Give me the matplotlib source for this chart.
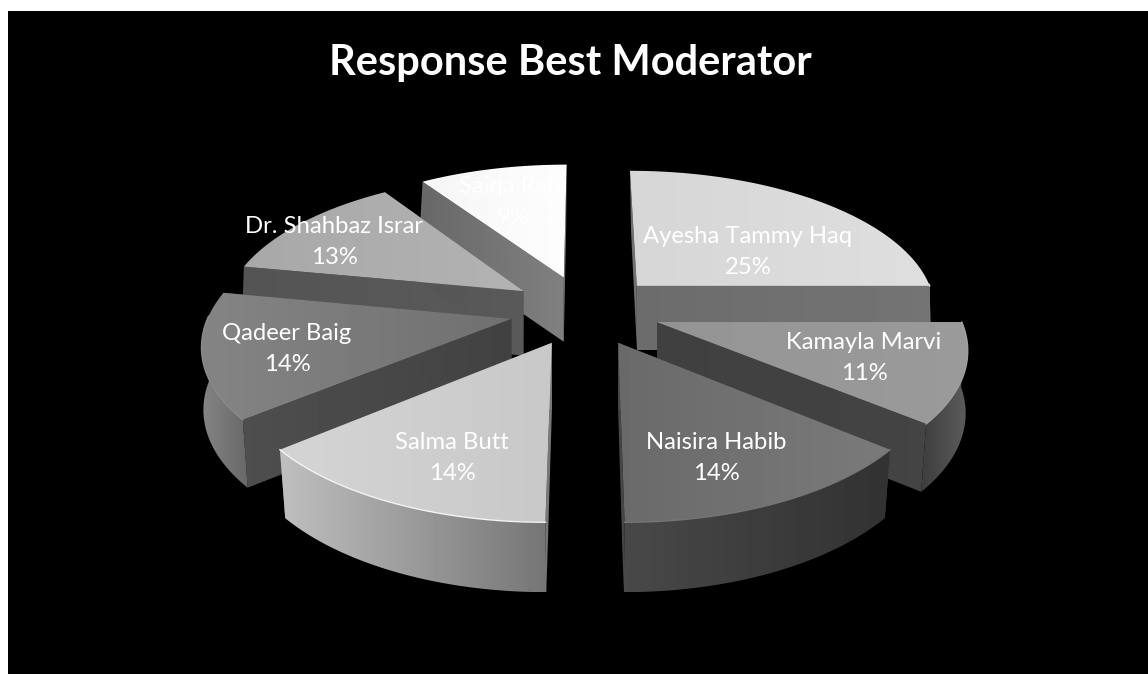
import numpy as np
import matplotlib
matplotlib.use("Agg")
import matplotlib.pyplot as plt
from matplotlib.patches import Polygon

plt.rcParams['font.family'] = ['Lato', 'DejaVu Sans']

names = ['Ayesha Tammy Haq', 'Kamayla Marvi', 'Naisira Habib', 'Salma Butt',
         'Qadeer Baig', 'Dr. Shahbaz Israr', 'Saiqa Rani']
shares = [25, 11, 14, 14, 14, 12.6, 9.4]

# Greys per slice, each (left, right): top surface, side wall, cut wall
top_gray = [(214, 222), (148, 154), (106, 122), (212, 200), (132, 112), (168, 178), (246, 253)]
wall_gray = [(120, 120), (62, 92), (72, 50), (190, 118), (132, 104), (120, 120), (120, 120)]
cut_gray = [(108, 116), (64, 68), (70, 70), (120, 120), (78, 66), (84, 90), (104, 128)]
rim_gray = [222, 160, 118, 244, 140, 178, 250]

# Label centres in pixels of the figure
label_x = [748, 864, 716, 452, 287, 334, 513]
label_y = [252, 358, 458, 458, 349, 242, 202]

# Perspective of the pie
CX, CY = 585, 310
AX_U, AX_V = 301, 140
PERSP = 0.156
EXPLODE = 0.25


def project(u, v, drop=False):
    """Map pie plane coordinates to pixels, optionally on the bottom face."""
    d = 1 + PERSP * v
    x = CX + AX_U * u / d
    y = CY - AX_V * v / d
    if drop:
        x = CX + (x - CX) * (1 + 0.02 * v)
        y = y + 65 - 4 * v
    return x, y


def gradient_poly(ax, xs, ys, g_left, g_right, z):
    """Fill a polygon with a left to right grey gradient."""
    patch = Polygon(np.c_[xs, ys], facecolor='none', edgecolor='none', zorder=z)
    ax.add_patch(patch)
    grad = np.linspace(g_left, g_right, 64).reshape(1, -1)
    im = ax.imshow(grad, extent=(np.min(xs), np.max(xs) + 0.01, np.max(ys) + 0.01, np.min(ys)), cmap='gray',
                   vmin=0, vmax=255, aspect='auto', zorder=z, interpolation='bilinear')
    im.set_clip_path(patch)


def draw_slice(ax, start, end, i, z):
    mid = (start + end) / 2
    ou, ov = EXPLODE * np.sin(mid), EXPLODE * np.cos(mid)
    t = np.linspace(start, end, 120)
    u = ou + np.sin(t)
    v = ov + np.cos(t)

    # cut walls from the apex out to both ends of the arc
    for ang in (start, end):
        eu, ev = ou + np.sin(ang), ov + np.cos(ang)
        a = project(ou, ov)
        b = project(eu, ev)
        c = project(eu, ev, True)
        d = project(ou, ov, True)
        gradient_poly(ax, [a[0], b[0], c[0], d[0]], [a[1], b[1], c[1], d[1]],
                      cut_gray[i][0], cut_gray[i][1], z)

    # outer wall, only the part facing the viewer
    front = np.cos(t) < 0.02
    if front.sum() > 1:
        tx, ty = project(u[front], v[front])
        bx, by = project(u[front], v[front], True)
        gradient_poly(ax, np.r_[tx, bx[::-1]], np.r_[ty, by[::-1]],
                      wall_gray[i][0], wall_gray[i][1], z + 0.1)

    # top surface
    px, py = project(u, v)
    ax_x, ax_y = project(ou, ov)
    gradient_poly(ax, np.r_[ax_x, px], np.r_[ax_y, py], top_gray[i][0], top_gray[i][1], z + 0.2)

    # thin light edge along the arc
    g = rim_gray[i] / 255
    ax.plot(px[front], py[front], color=(g, g, g), lw=1.0, zorder=z + 0.3)


fig = plt.figure(figsize=(11.48, 6.74), dpi=100, facecolor='white')
ax = fig.add_axes([8 / 1148, 0, 1140 / 1148, 663 / 674], facecolor='black')

edges = np.r_[0, np.cumsum(shares)] / np.sum(shares) * 2 * np.pi
mids = (edges[:-1] + edges[1:]) / 2
# back slices first so the nearer ones cover them
order = np.argsort(-np.cos(mids))
for z, i in enumerate(order):
    draw_slice(ax, edges[i], edges[i + 1], i, 2 + z)

ax.set_xlim(8, 1148)
ax.set_ylim(674, 11)
ax.set_xticks([])
ax.set_yticks([])
for s in ax.spines.values():
    s.set_visible(False)

for name, share, x, y in zip(names, shares, label_x, label_y):
    ax.text(x, y, f'{name}\n{round(share)}%', color='white', fontsize=17.2, ha='center', va='center',
            linespacing=1.55, zorder=30)

ax.text(570, 63, 'Response Best Moderator', color='white', fontsize=30, fontweight='bold',
        ha='center', va='center', zorder=30)

fig.savefig('out.png', dpi=100, facecolor='white')
